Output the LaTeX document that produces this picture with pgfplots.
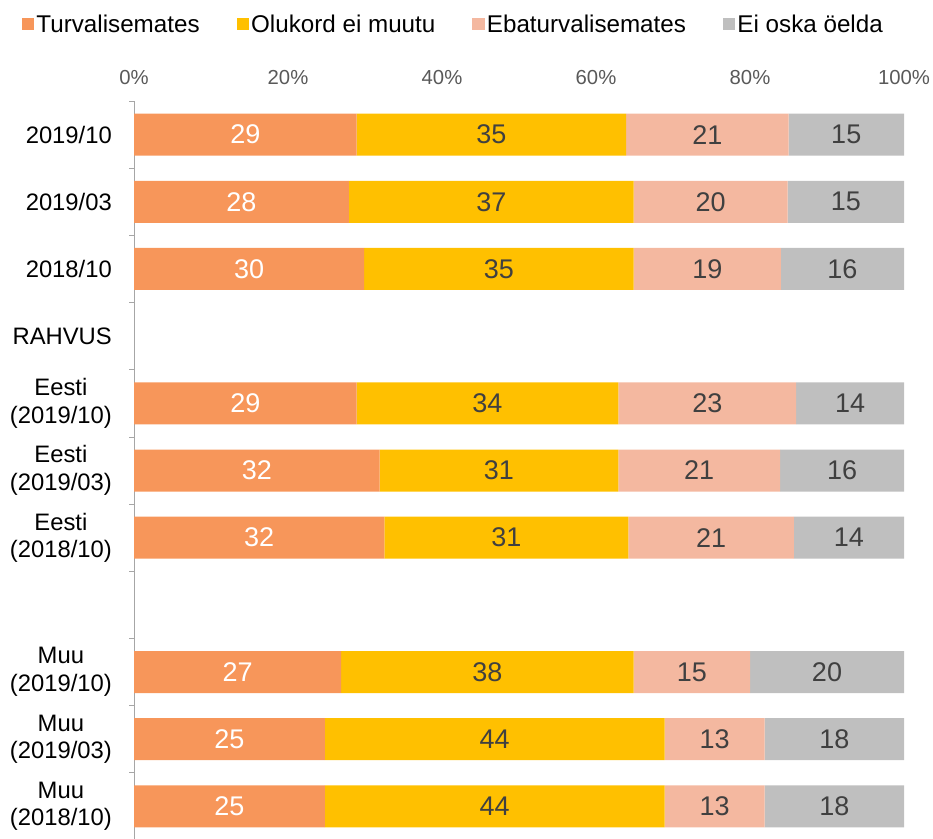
\documentclass[border=0pt]{standalone}
\usepackage{fontspec}
\setmainfont{Liberation Sans}
\usepackage{pgfplots}
\usepackage{pgfplotstable}
\pgfplotsset{compat=1.18}
\definecolor{cO}{HTML}{F7965A}
\definecolor{cY}{HTML}{FFC000}
\definecolor{cP}{HTML}{F4B8A0}
\definecolor{cG}{HTML}{BFBFBF}
\definecolor{axg}{HTML}{A6A6A6}
\definecolor{tkc}{HTML}{595959}
\definecolor{lbl}{HTML}{404040}

\pgfplotstableread{
y  o    yl   p    g    lo ly lp lg
0  28.9 35.0 21.1 15.0 29 35 21 15
1  27.9 37.0 20.0 15.1 28 37 20 15
2  29.9 35.0 19.1 16.0 30 35 19 16
4  28.9 34.0 23.1 14.0 29 34 23 14
5  31.9 31.0 21.0 16.1 32 31 21 16
6  32.5 31.7 21.5 14.3 32 31 21 14
8  26.9 38.0 15.1 20.0 27 38 15 20
9  24.8 44.1 13.0 18.1 25 44 13 18
10 24.8 44.1 13.0 18.1 25 44 13 18
}\data

\pgfplotsset{sqleg/.style={legend image code/.code={\fill[##1] (0pt,-6.25pt) rectangle (12.5pt,6.25pt);}}}

\begin{document}
\begin{tikzpicture}
\useasboundingbox (0pt,0pt) rectangle (933pt,838pt);
\begin{axis}[
 at={(134pt,-2pt)}, anchor=south west,
 scale only axis, width=770pt, height=739pt,
 xbar stacked, bar width=42pt,
 xmin=0, xmax=100, ymin=-0.5, ymax=10.5, y dir=reverse,
 axis x line=top, axis y line=left,
 axis line style={-},
 x axis line style={draw=none},
 y axis line style={draw=axg, line width=0.75pt},
 xtick={0,20,...,100},
 xticklabels={0\%,20\%,40\%,60\%,80\%,100\%},
 xtick style={draw=none},
 xticklabel style={font=\fontsize{20.3}{24}\selectfont, text=tkc, yshift=13pt},
 ytick={0,...,10},
 yticklabels={2019/10,2019/03,2018/10,RAHVUS,{Eesti\\(2019/10)},{Eesti\\(2019/03)},{Eesti\\(2018/10)},{},{Muu\\(2019/10)},{Muu\\(2019/03)},{Muu\\(2018/10)}},
 major tick length=0pt,
 minor ytick={-0.5,0.5,...,10.5},
 minor tick length=5pt,
 tick align=outside,
 ytick style={draw=axg, line width=0.75pt},
 yticklabel style={font=\fontsize{23.8}{27.7}\selectfont, align=center, text=black, inner sep=0pt, xshift=-22pt},
 point meta=explicit symbolic,
 nodes near coords,
 nodes near coords style={anchor=center, font=\fontsize{27}{32}\selectfont},
 legend columns=4,
 legend style={at={(-0.1455,1.104)}, anchor=west, draw=none, fill=none, inner sep=0pt, outer sep=0pt,
   font=\fontsize{24.2}{28}\selectfont, nodes={inner sep=2pt},
   /tikz/every even column/.append style={column sep=35pt}},
]
\addplot[fill=cO, draw=none, sqleg, nodes near coords style={text=white}] table[x=o, y=y, meta=lo] {\data};
\addplot[fill=cY, draw=none, sqleg, nodes near coords style={text=lbl}] table[x=yl, y=y, meta=ly] {\data};
\addplot[fill=cP, draw=none, sqleg, nodes near coords style={text=lbl}] table[x=p, y=y, meta=lp] {\data};
\addplot[fill=cG, draw=none, sqleg, nodes near coords style={text=lbl}] table[x=g, y=y, meta=lg] {\data};
\legend{Turvalisemates, Olukord ei muutu, Ebaturvalisemates, Ei oska öelda}
\end{axis}
\end{tikzpicture}
\end{document}
